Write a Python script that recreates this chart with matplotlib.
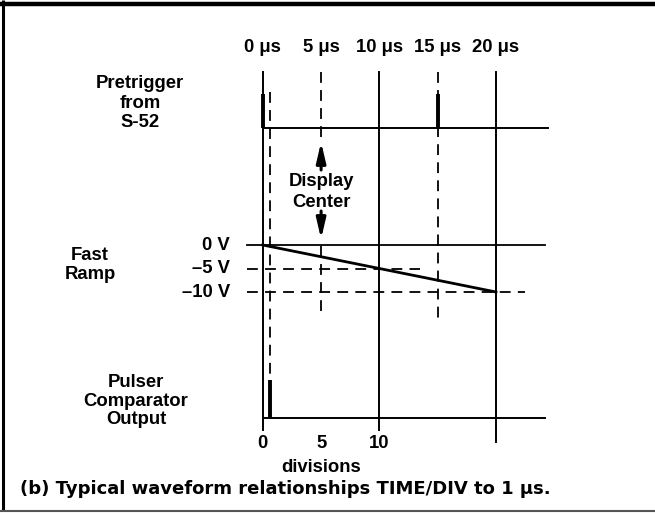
import matplotlib
matplotlib.use("Agg")
import matplotlib.pyplot as plt

W, H = 655, 514

# time base: 1 us per division
time_ticks_us = [0, 5, 10, 15, 20]
time_tick_labels = ["0 μs", "5 μs", "10 μs", "15 μs", "20 μs"]
solid_marks_us = [0, 10, 20]
dashed_marks_us = [5, 15]
division_ticks = [0, 5, 10]
division_labels = ["0", "5", "10"]
display_center_us = 5

# pretrigger from S-52 (logic level 0/1)
pretrigger_pulses_us = [0, 15]
pretrigger_end_us = 24.5

# fast ramp (volts)
ramp_t_us = [0, 20]
ramp_v = [0, -10]
volt_levels = [0, -5, -10]
volt_labels = ["0 V", "–5 V", "–10 V"]
volt_line_end_us = [24.2, 13.5, 22.5]

# pulser comparator output (logic level 0/1)
comparator_pulses_us = [0.62]
comparator_end_us = 24.2

# layout (pixels)
X0_PX, PX_PER_US = 262.8, 11.66
XLIM = (-X0_PX / PX_PER_US, (W - X0_PX) / PX_PER_US)
FONT = "Liberation Sans"
FS = 13.3

fig = plt.figure(figsize=(W / 100, H / 100), dpi=100)
fig.patch.set_facecolor("white")


def overlay(a, row_a, b, row_b, xlim=XLIM):
    # full-figure axes where value a sits on pixel row row_a and b on row_b
    ax = fig.add_axes([0, 0, 1, 1])
    ax.set_xlim(*xlim)
    s = (b - a) / (row_b - row_a)
    ax.set_ylim(a + s * (H - row_a), a - s * row_a)
    ax.axis("off")
    return ax


frame = overlay(H, H, 0, 0, xlim=(0, W))
tax = overlay(0, 0, H, H)
pre_ax = overlay(0, 128, 1, 94)
ramp_ax = overlay(0, 245, -10, 292)
pul_ax = overlay(0, 418, 1, 380)

txt = dict(family=FONT, fontsize=FS, fontweight="bold", color="black")
dash = (0, (6, 4))

# border
frame.plot([0, W], [4, 4], color="black", lw=3.2, solid_capstyle="butt")
frame.plot([3, 3], [0, 511], color="black", lw=2.2, solid_capstyle="butt")
frame.plot([0, W], [511, 511], color="#555555", lw=1.5)

# time markers
for t, bottom in zip(solid_marks_us, [430, 430, 442]):
    tax.plot([t, t], [72, bottom], color="black", lw=1.4)
for t in dashed_marks_us:
    if t == display_center_us:
        tax.plot([t, t], [72, 140], color="black", lw=1.3, ls=dash)
        tax.plot([t, t], [246, 318], color="black", lw=1.3, ls=dash)
    else:
        tax.plot([t, t], [72, 318], color="black", lw=1.3, ls=dash)
tax.plot([comparator_pulses_us[0]] * 2, [92, 380], color="black", lw=1.3, ls=dash)

for t, lab in zip(time_ticks_us, time_tick_labels):
    tax.text(t, 48, lab, ha="center", va="center", **txt)
for t, lab in zip(division_ticks, division_labels):
    tax.text(t, 443, lab, ha="center", va="center", **txt)
tax.text(5, 467, "divisions", ha="center", va="center", **txt)

# pretrigger
pre_ax.plot([0, pretrigger_end_us], [0, 0], color="black", lw=1.4)
pre_ax.vlines(pretrigger_pulses_us, 0, 1, color="black", lw=2.8)

# display center arrows
head = "-|>,head_width=0.28,head_length=1.2"
tax.annotate("", xy=(display_center_us, 142), xytext=(display_center_us, 170),
             arrowprops=dict(arrowstyle=head, color="black", lw=2.2, shrinkA=0, shrinkB=0))
tax.annotate("", xy=(display_center_us, 239), xytext=(display_center_us, 211),
             arrowprops=dict(arrowstyle=head, color="black", lw=2.2, shrinkA=0, shrinkB=0))
tax.text(display_center_us, 192, "Display\nCenter", ha="center", va="center",
         linespacing=1.3, **txt)

# fast ramp
for v, lab, end in zip(volt_levels, volt_labels, volt_line_end_us):
    ls = "-" if v == 0 else dash
    ramp_ax.plot([-1.35, end], [v, v], color="black", lw=1.3, ls=ls)
    ramp_ax.text(-2.8, v, lab, ha="right", va="center", **txt)
ramp_ax.plot(ramp_t_us, ramp_v, color="black", lw=2.0)

# pulser comparator output
pul_ax.plot([0, comparator_end_us], [0, 0], color="black", lw=1.4)
pul_ax.vlines(comparator_pulses_us, 0, 1, color="black", lw=2.8)

# trace names
frame.text(140, 103, "Pretrigger\nfrom\nS-52", ha="center", va="center", linespacing=1.2, **txt)
frame.text(90, 265, "Fast\nRamp", ha="center", va="center", linespacing=1.15, **txt)
frame.text(136, 401, "Pulser\nComparator\nOutput", ha="center", va="center", linespacing=1.1, **txt)

frame.text(20, 489, "(b) Typical waveform relationships TIME/DIV to 1 μs.",
           ha="left", va="center", family="DejaVu Sans", fontsize=13.0,
           fontweight="bold", color="black")

fig.savefig("out.png", dpi=100, facecolor="white")
